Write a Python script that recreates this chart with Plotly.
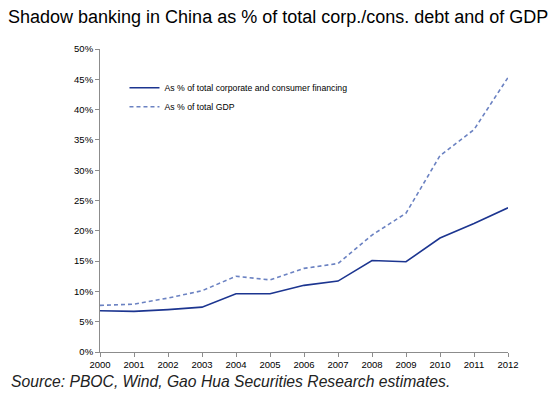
import plotly.graph_objects as go

years = list(range(2000, 2013))
corp_cons = [6.8, 6.7, 7.0, 7.4, 9.6, 9.6, 11.0, 11.7, 15.1, 14.9, 18.8, 21.2, 23.8]
gdp = [7.7, 7.9, 8.9, 10.1, 12.5, 11.9, 13.8, 14.6, 19.3, 22.9, 32.4, 36.7, 45.3]
y_ticks = [0, 5, 10, 15, 20, 25, 30, 35, 40, 45, 50]
y_tick_labels = [f"{v}%" for v in y_ticks]

font = "Liberation Sans, Arial, sans-serif"

fig = go.Figure()
fig.add_trace(go.Scatter(x=years, y=corp_cons, mode="lines",
                         name="As % of total corporate and consumer financing",
                         line=dict(color="#1c3590", width=1.6)))
fig.add_trace(go.Scatter(x=years, y=gdp, mode="lines",
                         name="As % of total GDP",
                         line=dict(color="#6b82c2", width=1.6, dash="4px,3px")))

# page has an 8px body margin, so the figure is drawn 8px smaller and offset
fig.update_layout(
    width=549, height=389,
    margin=dict(l=92, r=49, t=41, b=45),
    paper_bgcolor="white", plot_bgcolor="white",
    font=dict(family=font, color="#000000", size=10),
    title=dict(text="Shadow banking in China as % of total corp./cons. debt and of GDP",
               x=0.0, xanchor="left", y=0.977, yanchor="middle",
               pad=dict(l=0, r=0, t=0, b=0),
               font=dict(family=font, size=18, color="#000000")),
    showlegend=True,
    legend=dict(x=0.06, y=0.92, xanchor="left", yanchor="top",
                bgcolor="rgba(0,0,0,0)", font=dict(family=font, size=8.7),
                tracegroupgap=4, itemwidth=30),
    annotations=[dict(text="<i>Source: PBOC, Wind, Gao Hua Securities Research estimates.</i>",
                      xref="paper", yref="paper", x=-0.222, y=-0.098,
                      xanchor="left", yanchor="middle", showarrow=False,
                      font=dict(family=font, size=15.7, color="#222222"))],
)
fig.update_xaxes(range=[2000, 2012], tickmode="array", tickvals=years,
                 ticktext=[str(y) for y in years],
                 showline=True, linecolor="#8c8c8c", linewidth=1,
                 ticks="outside", ticklen=4, tickcolor="#8c8c8c",
                 showgrid=False, zeroline=False, tickfont=dict(size=9.5))
fig.update_yaxes(range=[0, 50], tickmode="array", tickvals=y_ticks,
                 ticktext=y_tick_labels,
                 showline=True, linecolor="#8c8c8c", linewidth=1,
                 ticks="outside", ticklen=4, tickcolor="#8c8c8c",
                 showgrid=False, zeroline=False, tickfont=dict(size=9.5))

fig.write_html("out.html")
